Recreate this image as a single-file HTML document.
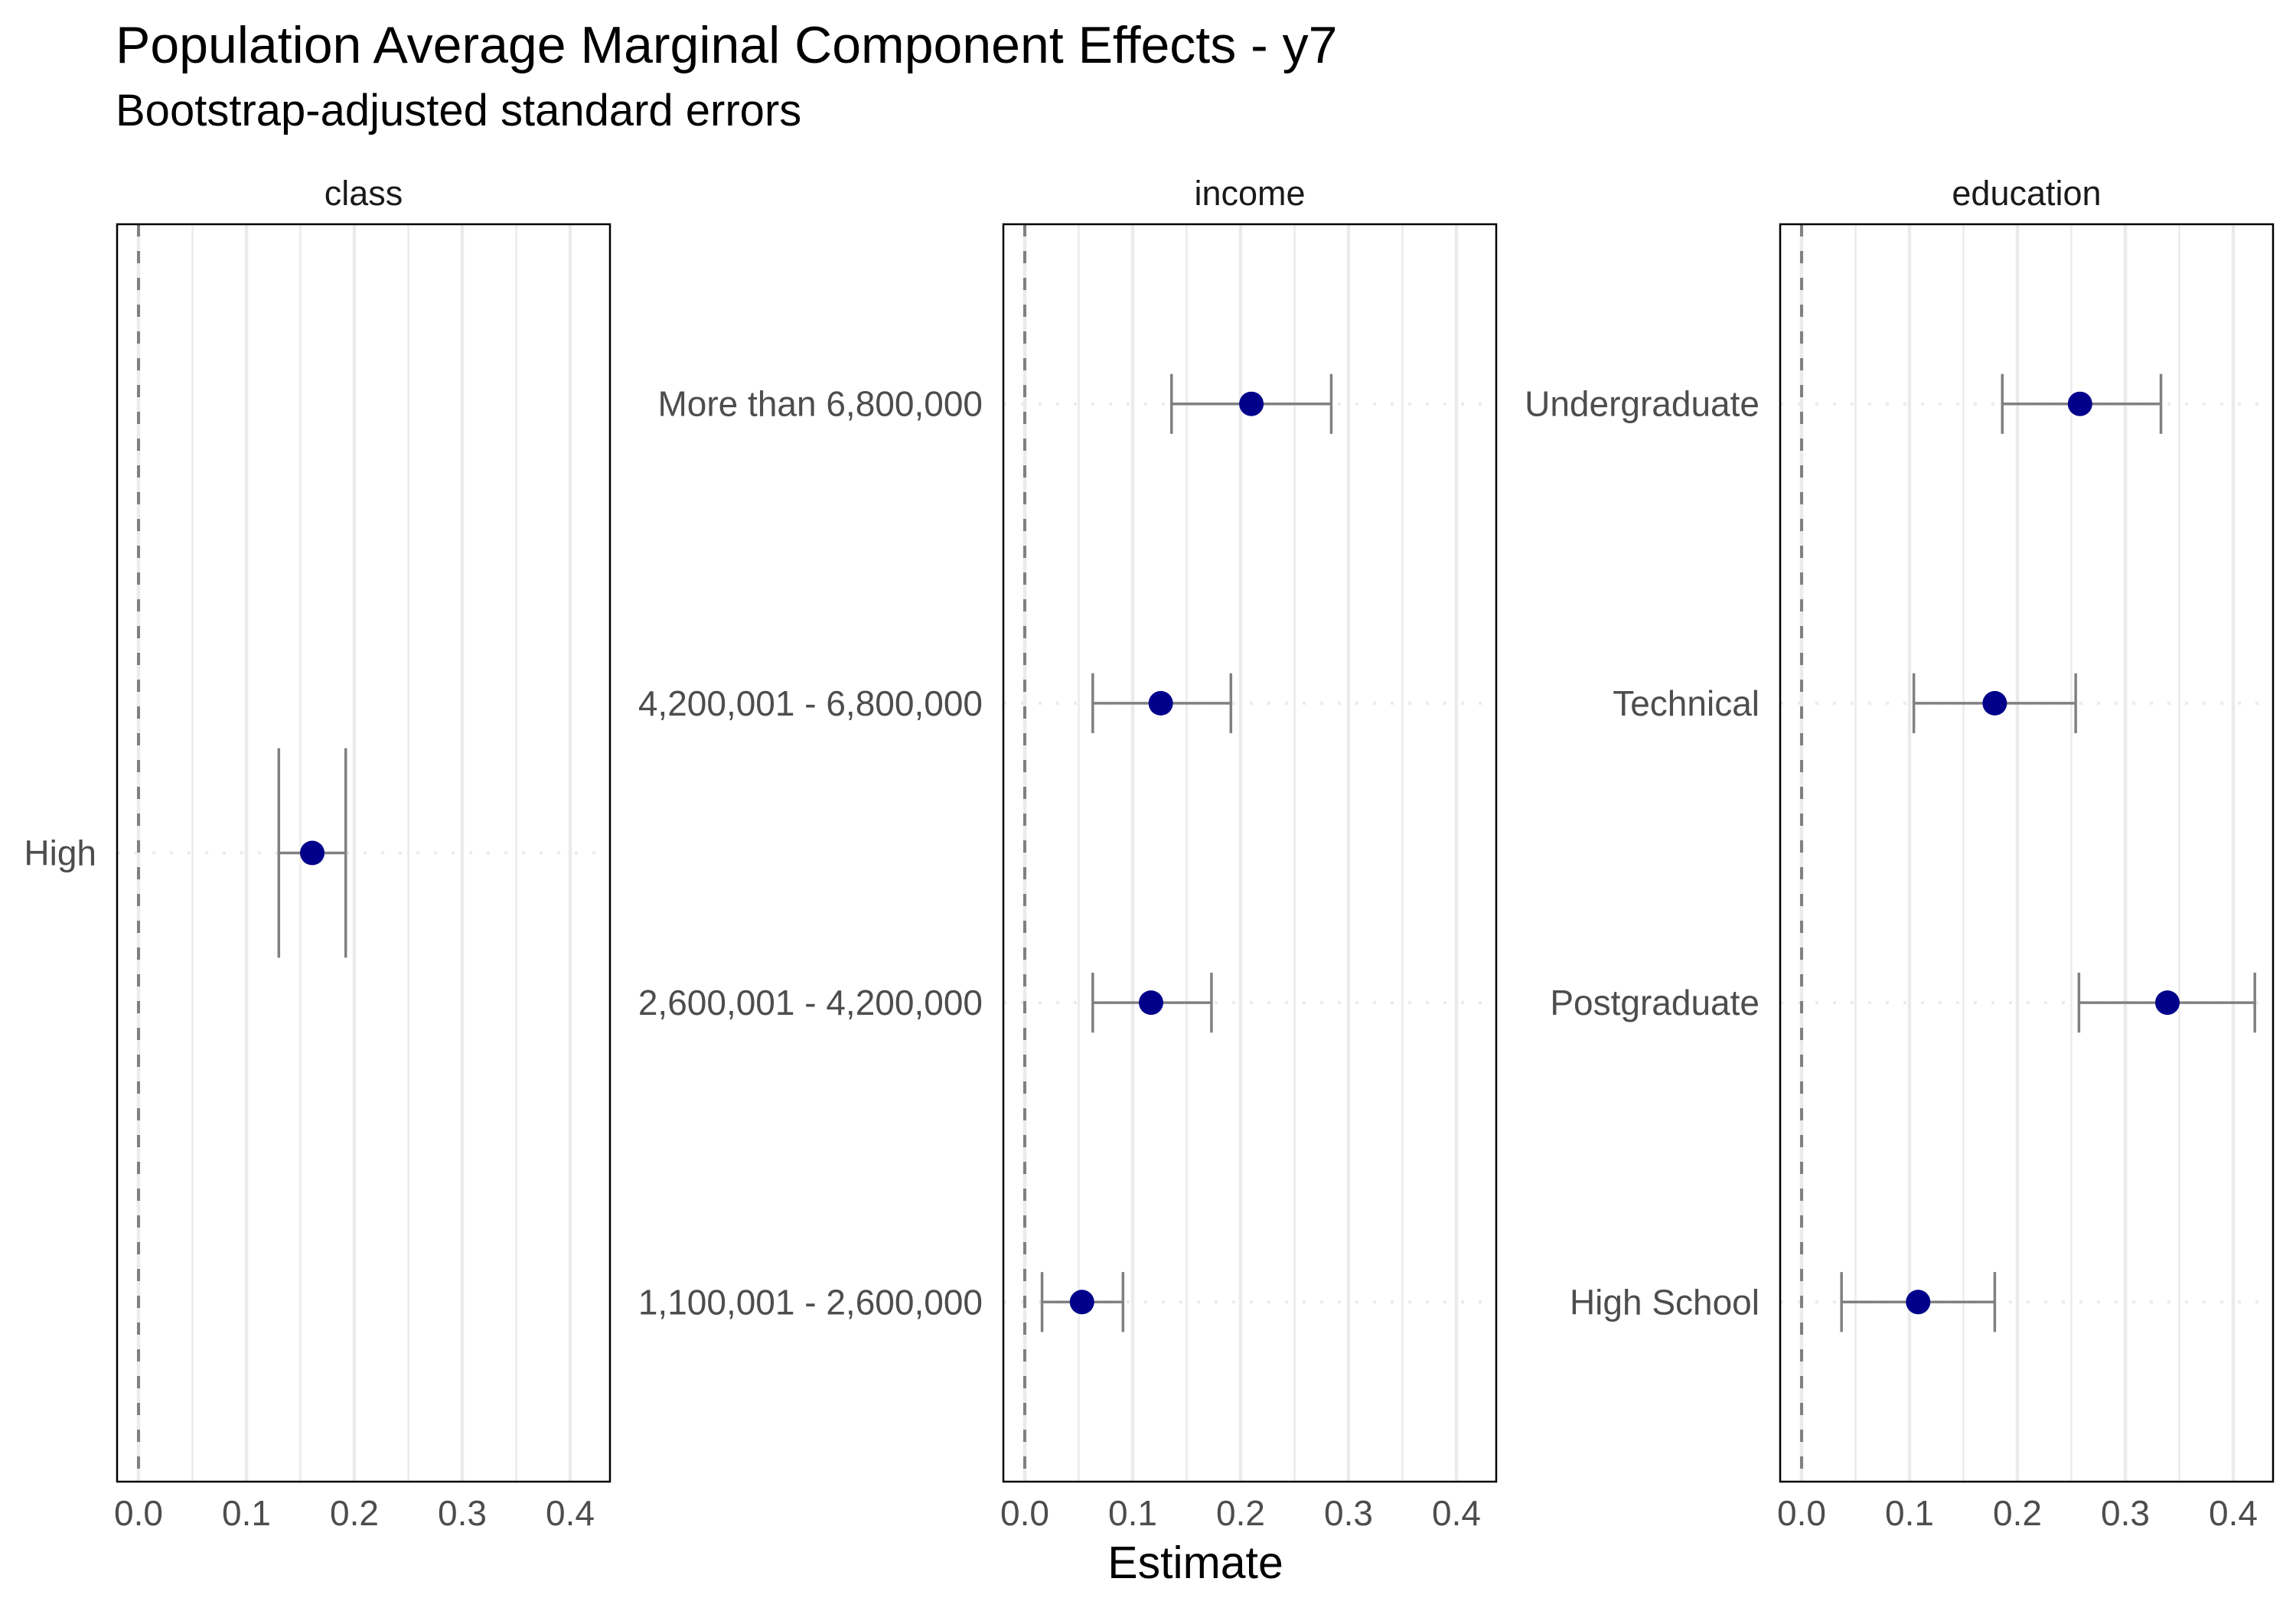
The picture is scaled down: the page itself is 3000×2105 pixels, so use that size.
<!DOCTYPE html>
<html><head><meta charset="utf-8"><style>
html,body{margin:0;padding:0;background:#fff}
svg text{font-family:"Liberation Sans",Arial,sans-serif}
</style></head><body>
<svg id="chart" xmlns="http://www.w3.org/2000/svg" width="3000" height="2100" viewBox="0 0 3000 2100">
<rect width="3000" height="2100" fill="#fff"/>
<text x="151" y="82" font-size="68" fill="#000">Population Average Marginal Component Effects - y7</text>
<text x="151" y="164" font-size="58" fill="#000">Bootstrap-adjusted standard errors</text>
<text x="1562" y="2062" font-size="59" fill="#000" text-anchor="middle">Estimate</text>
<g id="panels"></g>
</svg>
<script>
const classCats = ["High"];
const classEst = [0.161];
const classLo = [0.130];
const classHi = [0.192];
const incomeCats = ["1,100,001 - 2,600,000","2,600,001 - 4,200,000","4,200,001 - 6,800,000","More than 6,800,000"];
const incomeEst = [0.053,0.117,0.126,0.210];
const incomeLo = [0.016,0.063,0.063,0.136];
const incomeHi = [0.091,0.173,0.191,0.284];
const eduCats = ["High School","Postgraduate","Technical","Undergraduate"];
const eduEst = [0.108,0.339,0.179,0.258];
const eduLo = [0.037,0.257,0.104,0.186];
const eduHi = [0.179,0.420,0.254,0.333];
const xTicks = [0,0.1,0.2,0.3,0.4];
const xTickLabels = ["0.0","0.1","0.2","0.3","0.4"];
const facetNames = ["class","income","education"];

const NS="http://www.w3.org/2000/svg";
const root=document.getElementById('panels');
function mk(tag,attrs,parent){const e=document.createElementNS(NS,tag);for(const k in attrs)e.setAttribute(k,attrs[k]);(parent||root).appendChild(e);return e;}
const pTop=293,pBottom=1936,pw=644;
const panels=[
 {left:153,cats:classCats,est:classEst,lo:classLo,hi:classHi,name:facetNames[0]},
 {left:1311,cats:incomeCats,est:incomeEst,lo:incomeLo,hi:incomeHi,name:facetNames[1]},
 {left:2326,cats:eduCats,est:eduEst,lo:eduLo,hi:eduHi,name:facetNames[2]}
];
panels.forEach((p,pi)=>{
 const g=mk('g',{});
 
 
 const x=v=>p.left+28+v*1410;
 const n=p.cats.length;
 const unit=(pBottom-pTop)/(n-1+1.2);
 const y=i=>pBottom-(i+0.6)*unit;
 for(let v=0.05;v<0.44;v+=0.1){mk('line',{x1:x(v),x2:x(v),y1:pTop,y2:pBottom,stroke:'#ebebeb','stroke-width':2.5},g);}
 xTicks.forEach(v=>{mk('line',{x1:x(v),x2:x(v),y1:pTop,y2:pBottom,stroke:'#ebebeb','stroke-width':4.5},g);});
 p.cats.forEach((c,i)=>{
  const gl=mk('line',{x1:p.left,x2:p.left+pw,y1:y(i),y2:y(i),stroke:'#ebebeb','stroke-width':4,'stroke-dasharray':'4 19'},g);
  
  
 });
 const zl=mk('line',{x1:x(0),x2:x(0),y1:pTop,y2:pBottom,stroke:'#808080','stroke-width':4,'stroke-dasharray':'16 19'},g);
 
 
 const cap=0.1*unit;
 p.cats.forEach((c,i)=>{
  const eb=mk('g',{stroke:'#808080','stroke-width':3.5,fill:'none'},g);
  
  
  mk('line',{x1:x(p.lo[i]),x2:x(p.hi[i]),y1:y(i),y2:y(i)},eb);
  mk('line',{x1:x(p.lo[i]),x2:x(p.lo[i]),y1:y(i)-cap,y2:y(i)+cap},eb);
  mk('line',{x1:x(p.hi[i]),x2:x(p.hi[i]),y1:y(i)-cap,y2:y(i)+cap},eb);
  const pt=mk('circle',{cx:x(p.est[i]),cy:y(i),r:16,fill:'#00008b'},g);
  
  
  const t=mk('text',{x:p.left-27,y:y(i)+16,'font-size':46,fill:'#4d4d4d','text-anchor':'end'},g);
  t.textContent=c;
  
  
 });
 const fr=mk('rect',{x:p.left,y:pTop,width:pw,height:pBottom-pTop,fill:'none',stroke:'#000','stroke-width':2.5},g);
 
 
 xTicks.forEach((v,k)=>{
  const t=mk('text',{x:x(v),y:1993,'font-size':46,fill:'#4d4d4d','text-anchor':'middle'},g);
  t.textContent=xTickLabels[k];
  
  
 });
 const st=mk('text',{x:p.left+pw/2,y:268,'font-size':45,fill:'#1a1a1a','text-anchor':'middle'},g);
 st.textContent=p.name;
 
 
});
</script>
</body></html>
